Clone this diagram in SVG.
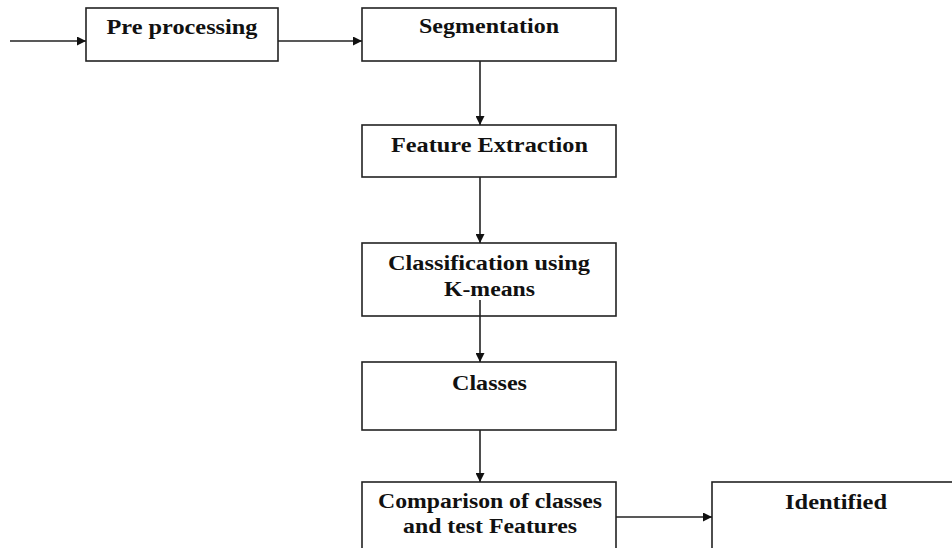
<svg xmlns="http://www.w3.org/2000/svg" width="952" height="548" viewBox="0 0 952 548">
<style>
.box{fill:#fff;stroke:#222;stroke-width:1.6}
.t{font-family:"Liberation Serif","DejaVu Serif",serif;font-weight:bold;font-size:20px;fill:#111;text-anchor:middle}
.c{stroke:#222;stroke-width:1.6;fill:none;marker-end:url(#ah)}
</style>
<defs>
<marker id="ah" viewBox="0 0 10 10" refX="10" refY="5" markerWidth="10" markerHeight="9" markerUnits="userSpaceOnUse" orient="auto">
<path d="M0,0 L10,5 L0,10 z" fill="#111"/>
</marker>
</defs>
<rect width="952" height="548" fill="#fff"/>
<g id="preprocessing">
<rect class="box" x="86" y="8" width="192" height="53"/>
<text class="t" x="182" y="34" textLength="151" lengthAdjust="spacingAndGlyphs">Pre processing</text>
</g>
<g id="segmentation">
<rect class="box" x="362" y="8" width="254" height="53"/>
<text class="t" x="489" y="33" textLength="140" lengthAdjust="spacingAndGlyphs">Segmentation</text>
</g>
<g id="feature">
<rect class="box" x="362" y="125" width="254" height="52"/>
<text class="t" x="489.5" y="152" textLength="197" lengthAdjust="spacingAndGlyphs">Feature Extraction</text>
</g>
<g id="classification">
<rect class="box" x="362" y="243" width="254" height="73"/>
<text class="t" x="489" y="270" textLength="202" lengthAdjust="spacingAndGlyphs">Classification using</text>
<text class="t" x="489.5" y="296" textLength="91" lengthAdjust="spacingAndGlyphs">K-means</text>
</g>
<g id="classes">
<rect class="box" x="362" y="362" width="254" height="68"/>
<text class="t" x="489.5" y="390" textLength="75" lengthAdjust="spacingAndGlyphs">Classes</text>
</g>
<g id="comparison">
<rect class="box" x="362" y="482" width="254" height="80"/>
<text class="t" x="490" y="508" textLength="224" lengthAdjust="spacingAndGlyphs">Comparison of classes</text>
<text class="t" x="490" y="533" textLength="174" lengthAdjust="spacingAndGlyphs">and test Features</text>
</g>
<g id="identified">
<rect class="box" x="712" y="482" width="260" height="80"/>
<text class="t" x="836" y="509" textLength="102" lengthAdjust="spacingAndGlyphs">Identified</text>
</g>
<g id="connectors">
<line class="c" x1="10" y1="41" x2="86" y2="41"/>
<line class="c" x1="278" y1="41" x2="362" y2="41"/>
<line class="c" x1="480" y1="61" x2="480" y2="125"/>
<line class="c" x1="480" y1="177" x2="480" y2="243"/>
<line class="c" x1="480" y1="300" x2="480" y2="362"/>
<line class="c" x1="480" y1="430" x2="480" y2="482"/>
<line class="c" x1="616" y1="517" x2="712" y2="517"/>
</g>
</svg>
